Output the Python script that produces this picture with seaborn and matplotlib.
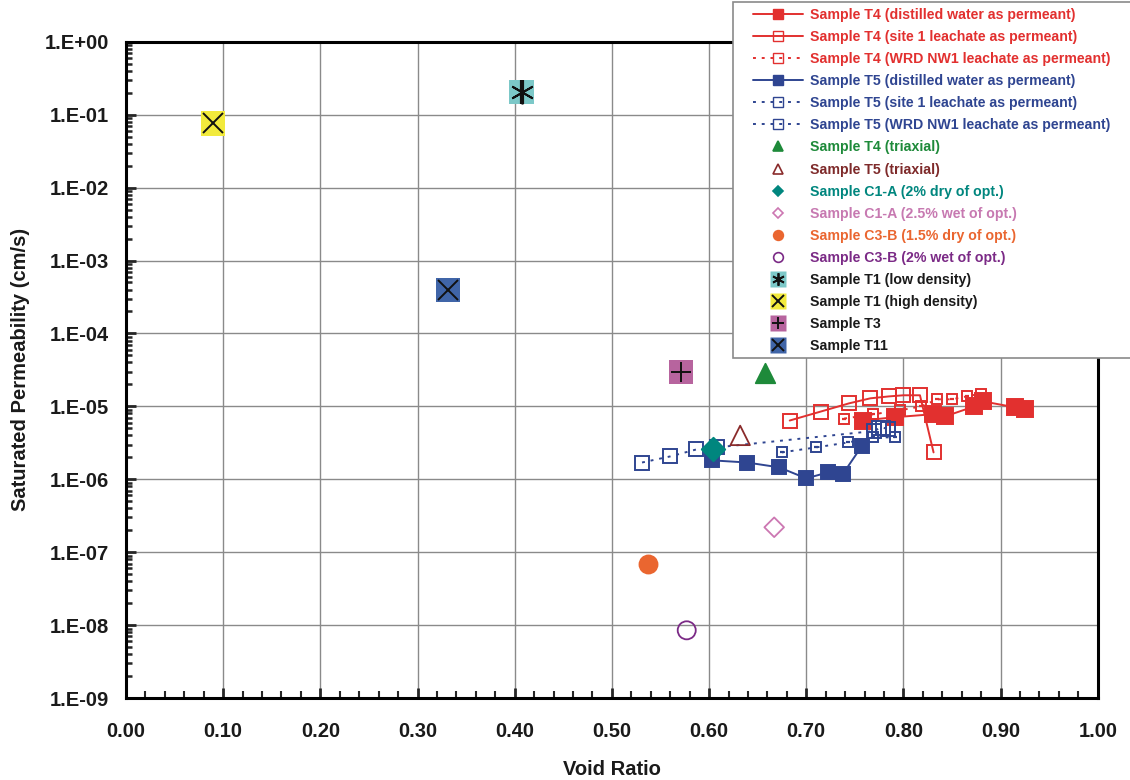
import numpy as np
import pandas as pd
import matplotlib
matplotlib.use("Agg")
import matplotlib.pyplot as plt
import seaborn as sns
from matplotlib.lines import Line2D
from matplotlib.patches import Rectangle
from matplotlib.ticker import FuncFormatter, MultipleLocator, LogLocator, NullFormatter

# --- data ---
t4_dw_x = [0.758, 0.791, 0.830, 0.843, 0.873, 0.882, 0.915, 0.925]
t4_dw_y = [6.4e-6, 7.1e-6, 7.8e-6, 7.3e-6, 1.0e-5, 1.17e-5, 9.7e-6, 9.1e-6]

t4_s1_x = [0.683, 0.715, 0.744, 0.766, 0.785, 0.800, 0.817, 0.831]
t4_s1_y = [6.4e-6, 8.5e-6, 1.1e-5, 1.29e-5, 1.37e-5, 1.42e-5, 1.42e-5, 2.34e-6]

t4_wrd_x = [0.739, 0.769, 0.796, 0.818, 0.835, 0.850, 0.865, 0.880]
t4_wrd_y = [6.8e-6, 7.8e-6, 8.8e-6, 1.0e-5, 1.25e-5, 1.25e-5, 1.37e-5, 1.5e-5]

t5_dw_x = [0.603, 0.639, 0.672, 0.700, 0.722, 0.738, 0.757]
t5_dw_y = [1.82e-6, 1.7e-6, 1.46e-6, 1.03e-6, 1.24e-6, 1.2e-6, 2.83e-6]

t5_s1_x = [0.531, 0.560, 0.587, 0.608, 0.770, 0.775, 0.779, 0.784]
t5_s1_y = [1.7e-6, 2.06e-6, 2.57e-6, 2.74e-6, 4.6e-6, 5.0e-6, 5.1e-6, 4.9e-6]

t5_wrd_x = [0.675, 0.710, 0.743, 0.769, 0.791]
t5_wrd_y = [2.34e-6, 2.74e-6, 3.2e-6, 3.76e-6, 3.76e-6]

# single points: label, x, y
single_labels = ["Sample T4 (triaxial)", "Sample T5 (triaxial)",
                 "Sample C1-A (2% dry of opt.)", "Sample C1-A (2.5% wet of opt.)",
                 "Sample C3-B (1.5% dry of opt.)", "Sample C3-B (2% wet of opt.)"]
single_x = [0.658, 0.632, 0.604, 0.667, 0.537, 0.577]
single_y = [2.9e-5, 4.0e-6, 2.57e-6, 2.2e-7, 7.0e-8, 8.5e-9]

box_labels = ["Sample T1 (low density)", "Sample T1 (high density)",
              "Sample T3", "Sample T11"]
box_x = [0.407, 0.0895, 0.571, 0.331]
box_y = [0.203, 0.076, 2.93e-5, 3.9e-4]

RED = "#E2302F"
BLUE = "#2F4591"

sns.set_style("white")
plt.rcParams["font.family"] = ["Liberation Sans", "DejaVu Sans"]
plt.rcParams["font.weight"] = "bold"

fig = plt.figure(figsize=(11.3, 7.8), dpi=100)
ax = fig.add_axes([0.1115, 0.105, 0.86, 0.8415])
ax.set_yscale("log")
ax.set_xlim(0, 1.0)
ax.set_ylim(1e-9, 1.0)

ax.grid(True, which="major", color="#8a8a8a", linewidth=1.0)
ax.set_axisbelow(True)

handles = []


def series(x, y, color, mfc, ms, ls, label, inner=None):
    sns.lineplot(x=x, y=y, ax=ax, sort=False, estimator=None, color=color,
                 linestyle=ls, linewidth=1.4, marker="s", markersize=ms,
                 markerfacecolor=mfc, markeredgecolor=color, markeredgewidth=1.4,
                 legend=False)
    if inner:
        ax.plot(x, y, linestyle="none", marker="_", markersize=inner,
                color=color, markeredgewidth=1.6)
    h = Line2D([], [], color=color, linestyle=ls, linewidth=1.4, marker="s",
               markersize=7, markerfacecolor=mfc, markeredgecolor=color)
    handles.append((h, label, color))


series(t4_s1_x, t4_s1_y, RED, "none", 9.5, "-", "Sample T4 (site 1 leachate as permeant)")
series(t4_wrd_x, t4_wrd_y, RED, "none", 6.5, (0, (1.5, 3)), "Sample T4 (WRD NW1 leachate as permeant)", inner=3)
series(t4_dw_x, t4_dw_y, RED, RED, 11, "-", "Sample T4 (distilled water as permeant)")
series(t5_s1_x, t5_s1_y, BLUE, "none", 10.5, (0, (1.5, 3)), "Sample T5 (site 1 leachate as permeant)")
series(t5_wrd_x, t5_wrd_y, BLUE, "none", 6.5, (0, (1.5, 3)), "Sample T5 (WRD NW1 leachate as permeant)", inner=3)
series(t5_dw_x, t5_dw_y, BLUE, BLUE, 10.5, "-", "Sample T5 (distilled water as permeant)")

# reorder legend entries to match the reference
order = [2, 0, 1, 5, 3, 4]
handles = [handles[i] for i in order]

single_style = [
    dict(marker="^", color="#1E8A3A", mfc="#1E8A3A", ms=14, txt="#1E8A3A"),
    dict(marker="^", color="#8A2B2B", mfc="none", ms=14, txt="#7E2A2A"),
    dict(marker="D", color="#00867E", mfc="#00867E", ms=12, txt="#00867E"),
    dict(marker="D", color="#CC77B2", mfc="none", ms=10, txt="#C779B1"),
    dict(marker="o", color="#EA6630", mfc="#EA6630", ms=13, txt="#EA6630"),
    dict(marker="o", color="#7B2A86", mfc="none", ms=13, txt="#7B2A86"),
]
for lab, x, y, st in zip(single_labels, single_x, single_y, single_style):
    sns.scatterplot(x=[x], y=[y], ax=ax, marker=st["marker"], s=st["ms"] ** 2,
                    facecolor=st["mfc"], edgecolor=st["color"], linewidth=1.3,
                    zorder=4, legend=False)
    h = Line2D([], [], linestyle="none", marker=st["marker"], markersize=7 if st["marker"] != "D" else 5.5,
               markerfacecolor=st["mfc"], markeredgecolor=st["color"], markeredgewidth=1.2)
    handles.append((h, lab, st["txt"]))

box_style = [("#7CC8C8", "asterisk"), ("#F2EA3C", "x"), ("#B7649E", "+"), ("#4065A8", "x")]
for lab, x, y, (bg, sym) in zip(box_labels, box_x, box_y, box_style):
    sns.scatterplot(x=[x], y=[y], ax=ax, marker="s", s=17.5 ** 2, color=bg,
                    edgecolor="none", zorder=4, legend=False)
    if sym == "asterisk":
        ax.plot([x], [y], marker=(6, 2, 0), markersize=17, color="#111111",
                markeredgewidth=1.4, zorder=5)
        ax.plot([x], [y], marker="|", markersize=17, color="#111111",
                markeredgewidth=3, zorder=5)
        inner = Line2D([], [], linestyle="none", marker=(6, 2, 0), markersize=9,
                       color="#111111", markeredgewidth=1.3)
    else:
        ax.plot([x], [y], marker=sym, markersize=15, color="#111111",
                markeredgewidth=1.4, zorder=5)
        inner = Line2D([], [], linestyle="none", marker=sym, markersize=9,
                       color="#111111", markeredgewidth=1.4)
    bgh = Line2D([], [], linestyle="none", marker="s", markersize=12,
                 markerfacecolor=bg, markeredgecolor="none")
    handles.append(((bgh, inner), lab, "#1a1a1a"))

# axes styling
for s in ax.spines.values():
    s.set_color("black")
    s.set_linewidth(2.2)

ax.yaxis.set_major_locator(LogLocator(base=10, numticks=12))
ax.yaxis.set_minor_locator(LogLocator(base=10, subs=np.arange(2, 10), numticks=12))
ax.yaxis.set_minor_formatter(NullFormatter())
ax.yaxis.set_major_formatter(FuncFormatter(lambda v, p: f"1.E{int(round(np.log10(v))):+03d}"))
ax.xaxis.set_major_locator(MultipleLocator(0.1))
ax.xaxis.set_minor_locator(MultipleLocator(0.02))
ax.xaxis.set_major_formatter(FuncFormatter(lambda v, p: f"{v:.2f}"))

ax.tick_params(axis="y", which="major", direction="in", length=7, width=2, pad=12.5,
               labelsize=14.5, left=True, right=False)
ax.tick_params(axis="y", which="minor", direction="in", length=4, width=1.8,
               left=True, right=False)
ax.tick_params(axis="x", which="major", direction="in", length=7, width=2, pad=17,
               labelsize=14.5, bottom=True, top=False)
ax.tick_params(axis="x", which="minor", direction="in", length=5, width=1.5,
               bottom=True, top=False)
for t in ax.get_xticklabels() + ax.get_yticklabels():
    t.set_fontweight("bold")
    t.set_color("#1a1a1a")

ax.set_xlabel("Void Ratio", fontsize=14.5, fontweight="bold", color="#1a1a1a", labelpad=14)
ax.set_ylabel("Saturated Permeability (cm/s)", fontsize=14.5, fontweight="bold",
              color="#1a1a1a", labelpad=10)

# legend box drawn separately so the entries sit inset like the original
frame = Rectangle((733 / 1130, 1 - 358 / 780), (1140 - 733) / 1130, (358 - 2) / 780,
                  transform=fig.transFigure, facecolor="white", edgecolor="#8a8a8a",
                  linewidth=1.2, zorder=3)
fig.patches.append(frame)

leg = fig.legend([h for h, _, _ in handles], [l for _, l, _ in handles],
                 loc="upper left", bbox_to_anchor=(753 / 1130, 1 - 8 / 780),
                 fontsize=10.2, frameon=False, handlelength=3.55,
                 handletextpad=0.5, labelspacing=0.57, borderpad=0,
                 borderaxespad=0)
leg.set_zorder(5)
for txt, (_, _, c) in zip(leg.get_texts(), handles):
    txt.set_color(c)
    txt.set_fontweight("bold")

fig.savefig("out.png", dpi=100)
